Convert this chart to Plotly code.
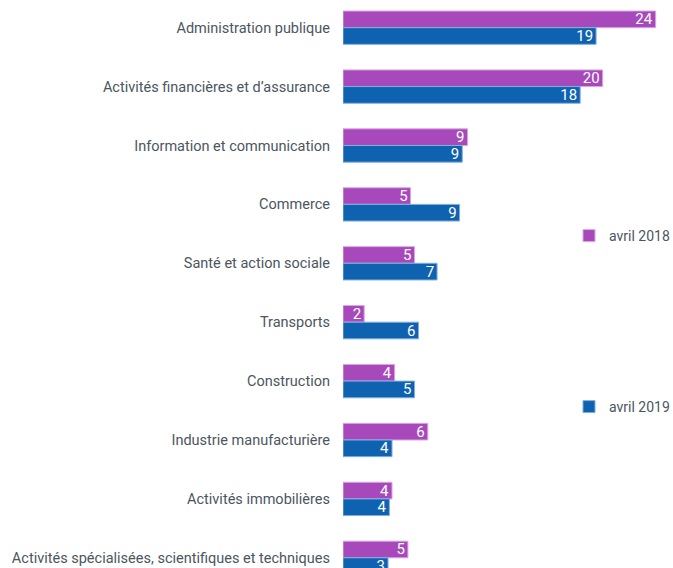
import plotly.graph_objects as go

categories = [
    "Administration publique",
    "Activités financières et d’assurance",
    "Information et communication",
    "Commerce",
    "Santé et action sociale",
    "Transports",
    "Construction",
    "Industrie manufacturière",
    "Activités immobilières",
    "Activités spécialisées, scientifiques et techniques",
]
avril_2018 = [23.6, 19.6, 9.4, 5.1, 5.4, 1.6, 3.9, 6.4, 3.7, 4.9]
avril_2019 = [19.1, 17.9, 9.0, 8.8, 7.1, 5.7, 5.4, 3.7, 3.5, 3.4]

FONT = "Roboto, sans-serif"
PURPLE = "#a849bb"
BLUE = "#0f62af"
TXT = "#4b5661"

fig = go.Figure()
fig.add_trace(go.Bar(
    y=categories, x=avril_2018, name="avril 2018", orientation="h",
    marker=dict(color=PURPLE, line=dict(color="#d9a8e2", width=1)),
    texttemplate="%{x:.0f}", textposition="inside", insidetextanchor="end",
    textangle=0, constraintext="none",
    textfont=dict(color="white", size=15, family=FONT),
    legend="legend",
))
fig.add_trace(go.Bar(
    y=categories, x=avril_2019, name="avril 2019", orientation="h",
    marker=dict(color=BLUE, line=dict(color="#7fb0de", width=1)),
    texttemplate="%{x:.0f}", textposition="inside", insidetextanchor="end",
    textangle=0, constraintext="none",
    textfont=dict(color="white", size=15, family=FONT),
    legend="legend2",
))

LEG_X = (569 - 343) / 330
fig.update_layout(
    width=673, height=568,
    margin=dict(l=343, r=0, t=0, b=0, autoexpand=False),
    barmode="group", bargap=0.434, bargroupgap=0,
    plot_bgcolor="white", paper_bgcolor="white",
    font=dict(family=FONT, size=14.5, color=TXT),
    xaxis=dict(range=[0, 330 / 13.25], visible=False, fixedrange=True),
    yaxis=dict(range=[9.173, -0.470], showgrid=False, showline=False,
               ticks="", ticklabelstandoff=12, zeroline=False,
               tickfont=dict(size=14.5, color=TXT, family=FONT)),
    legend=dict(x=LEG_X, y=1 - 236 / 568, xanchor="left", yanchor="middle",
                bgcolor="rgba(0,0,0,0)", font=dict(size=14, color=TXT, family=FONT)),
    legend2=dict(x=LEG_X, y=1 - 407 / 568, xanchor="left", yanchor="middle",
                 bgcolor="rgba(0,0,0,0)", font=dict(size=14, color=TXT, family=FONT)),
    showlegend=True,
)

fig.write_html("out.html", config={"displayModeBar": False},
               post_script="document.body.style.margin='0';")
